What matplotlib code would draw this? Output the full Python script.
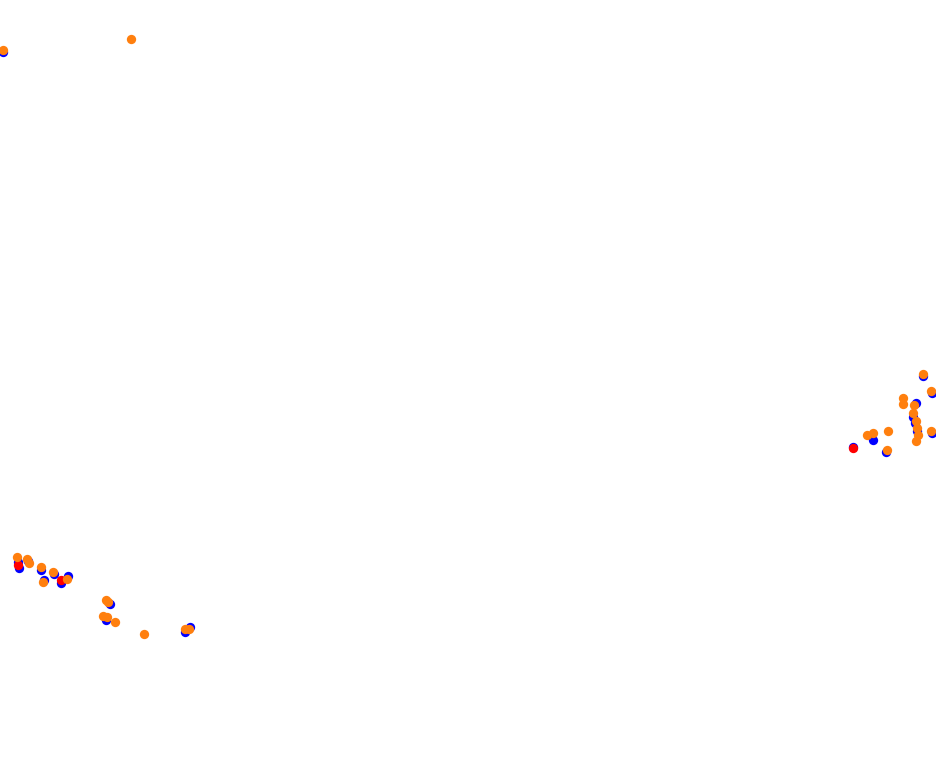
import matplotlib
matplotlib.use("Agg")
import matplotlib.pyplot as plt

# Positions (x to the right, y downward)
blue_x = [3, 923, 932, 916, 913, 915, 917, 932, 873, 853, 886,
          18, 19, 28, 41, 54, 44, 61, 68, 110, 106, 185, 190]
blue_y = [52, 376, 393, 403, 417, 423, 431, 433, 440, 447, 452,
          562, 568, 561, 570, 574, 580, 583, 576, 604, 620, 632, 627]

red_x = [853, 18, 61]
red_y = [448, 565, 580]

orange_x = [3, 131, 923, 931, 903, 903, 914, 913, 916, 917, 918, 916, 931, 888, 867, 873, 887,
            17, 27, 29, 41, 53, 43, 67, 106, 108, 103, 107, 115, 144, 185, 189]
orange_y = [50, 39, 374, 391, 398, 404, 405, 413, 421, 428, 435, 441, 431, 431, 435, 433, 450,
            557, 559, 563, 567, 572, 582, 579, 600, 602, 616, 617, 622, 634, 629, 629]

fig = plt.figure(figsize=(9.36, 7.68), dpi=100)
ax = fig.add_axes([0, 0, 1, 1])
ax.set_xlim(0, 936)
ax.set_ylim(768, 0)
ax.axis("off")

s = 45
ax.scatter(blue_x, blue_y, s=s, color="#0000ff", linewidths=0, zorder=1)
ax.scatter(red_x, red_y, s=s, color="#ff0000", linewidths=0, zorder=2)
ax.scatter(orange_x, orange_y, s=s, color="#ff7f0e", linewidths=0, zorder=3)

fig.savefig("out.png", dpi=100)
